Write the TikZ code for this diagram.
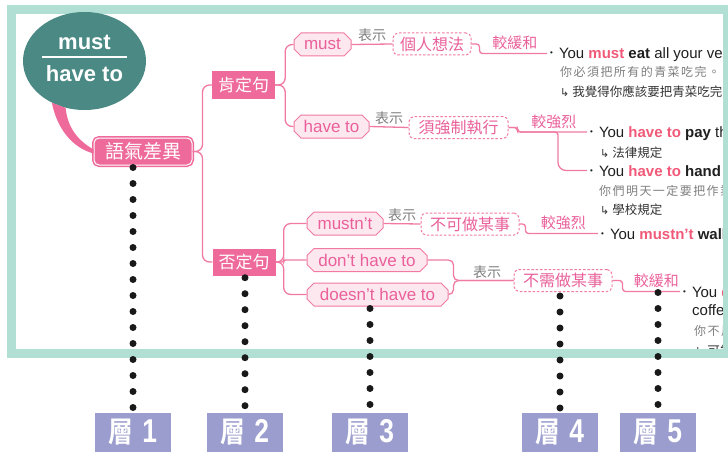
\documentclass[tikz,border=0pt]{standalone}
\usepackage{fontspec}
\setmainfont{Liberation Sans}
\newfontfamily\cjk{Noto Sans CJK TC}
\newfontfamily\cjkbold{Noto Sans CJK TC Bold}
\newfontfamily\arrowfont{DejaVu Sans}
\usetikzlibrary{shapes.misc,shapes.geometric,calc}
\definecolor{framegreen}{HTML}{B2DFD4}
\definecolor{topicteal}{HTML}{4B8A84}
\definecolor{pinkfill}{HTML}{EE6A9B}
\definecolor{pinkline}{HTML}{F07AA1}
\definecolor{pinktext}{HTML}{E9609A}
\definecolor{pinkpale}{HTML}{FDE8EF}
\definecolor{hlred}{HTML}{F05A78}
\definecolor{greytxt}{HTML}{7E7E7E}
\definecolor{layerblue}{HTML}{9A9DCD}
\newcommand{\dotmark}{\raisebox{3pt}{\fontsize{8}{8}\selectfont\textbullet}\hspace{6pt}}
\newcommand{\retarrow}{{\arrowfont\fontsize{11}{11}\selectfont ↳}\hspace{3pt}}
\newcommand{\layertext}[1]{\scalebox{0.85}[1]{\cjkbold\fontsize{29}{29}\selectfont 層}\hspace{9pt}\scalebox{0.8}[1]{\fontsize{33}{33}\selectfont\bfseries #1}}

\begin{document}
\begin{tikzpicture}[x=1pt,y=-1pt,
  every node/.style={inner sep=0pt},
  topic/.style={ellipse,fill=topicteal,minimum width=123pt,minimum height=98pt},
  topictext/.style={text=white,font=\bfseries\fontsize{22}{22}\selectfont},
  rootbox/.style={rounded corners=5pt,fill=pinkfill,draw=white,line width=1pt,
    preaction={draw=pinkfill,line width=4pt},text=white,
    font=\cjk\fontsize{19}{19}\selectfont,minimum width=98pt,minimum height=27pt},
  headbox/.style={fill=pinkfill,text=white,font=\cjk\fontsize{17}{17}\selectfont,
    minimum width=63pt,minimum height=27pt},
  wordbox/.style={chamfered rectangle,chamfered rectangle xsep=3.5pt,chamfered rectangle ysep=3.5pt,
    draw=pinkline,line width=1pt,fill=pinkpale,text=pinktext,
    font=\fontsize{17}{17}\selectfont,minimum height=23pt},
  meanbox/.style={rounded corners=5pt,draw=pinkline,line width=1pt,dash pattern=on 2.5pt off 1.8pt,
    fill=white,text=pinktext,font=\cjk\fontsize{16}{16}\selectfont,minimum height=22pt},
  branch/.style={draw=pinkline,line width=1.3pt,rounded corners=7pt},
  stepline/.style={draw=pinkline,line width=1.3pt,rounded corners=3pt},
  biaoshi/.style={text=greytxt,font=\cjk\fontsize{14}{14}\selectfont,above=1.5pt},
  tone/.style={text=pinktext,font=\cjk\fontsize{15}{15}\selectfont,above=3pt},
  sent/.style={anchor=west,text=black!88,font=\fontsize{15}{15}\selectfont,text height=11pt,text depth=0pt},
  cnline/.style={anchor=west,text=greytxt,font=\cjk\fontsize{12}{12}\selectfont\addfontfeature{LetterSpace=12}},
  noteline/.style={anchor=west,text=black!80,font=\cjk\fontsize{12.5}{12.5}\selectfont},
  layer/.style={fill=layerblue,text=white,minimum width=76pt,minimum height=39pt},
  dotcol/.style={draw=black!90,line width=7pt,line cap=round,dash pattern=on 0pt off 16pt}]
\useasboundingbox (0,0) rectangle (728,452);
\clip (0,0) rectangle (728,452);

% example sentences (the frame covers their right ends)
\node[sent] (s1) at (550,53.5) {\dotmark You \textcolor{hlred}{\textbf{must}} \textbf{eat} all your vegetables.};
\node[cnline] (s1cn) at (560,72) {你必須把所有的青菜吃完。};
\node[noteline] (s1note) at (560,92) {\retarrow 我覺得你應該要把青菜吃完};
\node[sent] (s2) at (590,132) {\dotmark You \textcolor{hlred}{\textbf{have to}} \textbf{pay} the};
\node[noteline] (s2note) at (600,152.5) {\retarrow 法律規定};
\node[sent] (s3) at (590,170.5) {\dotmark You \textcolor{hlred}{\textbf{have to}} \textbf{hand}};
\node[cnline] (s3cn) at (599,190.5) {你們明天一定要把作業};
\node[noteline] (s3note) at (600,209.5) {\retarrow 學校規定};
\node[sent] (s4) at (601,233.5) {\dotmark You \textcolor{hlred}{\textbf{mustn’t}} \textbf{wall}};
\node[sent] (s5) at (683,291.5) {\dotmark You \textcolor{hlred}{\textbf{don’t}}};
\node[sent,anchor=base west] (s5b) at (692,315) {coffee};
\node[cnline] (s5cn) at (694,330.5) {你不用};
\node[noteline] (s5note) at (695,351) {\retarrow 可能};

% frame
\draw[framegreen,line width=9pt] (11.5,9.5) rectangle (727.5,353.5);

% topic
\node[topic] (topic) at (84.5,61) {};
\node[topictext] (topicup) at (84.5,42) {must};
\node[topictext] (topicdown) at (84.5,74) {have to};
\draw[white,line width=2.5pt] ([xshift=-42.5pt,yshift=4pt]topic.center) -- ([xshift=42.5pt,yshift=4pt]topic.center);

\node[rootbox] (yuqi) at (143,151.5) {語氣差異};
\fill[pinkfill] (topic.232) .. controls +(5,25) and +(-22,-6) .. ([yshift=-2pt]yuqi.west)
  -- ([yshift=2pt]yuqi.west) .. controls +(-17,-10) and +(2,19) .. (topic.248) -- cycle;

\node[headbox] (ken) at (243.5,85) {肯定句};
\node[headbox] (fou) at (244,262) {否定句};

\node[wordbox,minimum width=57pt] (must) at (322.5,44.5) {must};
\node[wordbox,minimum width=75pt] (haveto) at (331.5,126.5) {have to};
\node[wordbox,minimum width=76pt] (mustnt) at (345,223.5) {mustn’t};
\node[wordbox,minimum width=120pt] (donthave) at (367,260) {don’t have to};
\node[wordbox,minimum width=141pt] (doesnthave) at (377.5,294.5) {doesn’t have to};

\node[meanbox,minimum width=78pt] (xiangfa) at (432,44) {個人想法};
\node[meanbox,minimum width=99pt] (zhixing) at (458.5,127.5) {須強制執行};
\node[meanbox,minimum width=98pt] (bukezuo) at (470,224) {不可做某事};
\node[meanbox,minimum width=98pt] (buxuzuo) at (563,280.5) {不需做某事};

% branches
\draw[branch] (yuqi.east) -- ++(10,0) |- (ken.west);
\draw[branch] (yuqi.east) -- ++(10,0) |- (fou.west);
\draw[branch] (ken.east) -- ++(10,0) |- (must.west);
\draw[branch] (ken.east) -- ++(10,0) |- (haveto.west);
\draw[branch] (fou.east) -- ++(8,0) |- (mustnt.west);
\draw[branch,rounded corners=2pt] (fou.east) -- ++(8,0) |- (donthave.west);
\draw[branch] (fou.east) -- ++(8,0) |- (doesnthave.west);

\draw[branch] (must.east) -- node[biaoshi] {表示} (xiangfa.west);
\draw[branch] (haveto.east) -- node[biaoshi] {表示} (zhixing.west);
\draw[branch] (mustnt.east) -- node[biaoshi] {表示} (bukezuo.west);
\draw[branch,rounded corners=5pt] (donthave.east) -- ++(26,0) |- (buxuzuo.west);
\draw[branch,rounded corners=5pt] (doesnthave.east) -- ++(5,0) |- node[pos=0.78,biaoshi] {表示} (buxuzuo.west);

\coordinate (fork) at ($(s2.west)+(-32,0)$);
\draw[stepline,shorten >=3pt] (xiangfa.east) -- ++(8,0) |- node[pos=0.75,tone] {較緩和} (s1.west);
\draw[stepline,shorten >=3pt] (zhixing.east) -- ++(9,0) |- node[pos=0.75,tone] {較強烈} (s2.west);
\draw[stepline,shorten >=3pt] (zhixing.east) -- ++(9,0) |- (fork) [rounded corners=8pt] |- (s3.west);
\draw[stepline,shorten >=3pt] (bukezuo.east) -- ++(6,0) |- node[pos=0.75,tone] {較強烈} (s4.west);
\draw[stepline,shorten >=3pt] (buxuzuo.east) -- ++(10,0) |- node[pos=0.78,tone] {較緩和} (s5.west);

% layers
\node[layer] (L1) at (133,432.5) {\layertext{1}};
\node[layer] (L2) at (245,432.5) {\layertext{2}};
\node[layer] (L3) at (370,432.5) {\layertext{3}};
\node[layer] (L4) at (560,432.5) {\layertext{4}};
\node[layer] (L5) at (658,432.5) {\layertext{5}};

\draw[dotcol] ($(L1.north |- yuqi.south)+(0,2)$) -- (L1.north);
\draw[dotcol] ($(L2.north |- fou.south)+(0,2)$) -- (L2.north);
\draw[dotcol] ($(L3.north |- doesnthave.south)+(0,2)$) -- (L3.north);
\draw[dotcol] ($(L4.north |- buxuzuo.south)+(0,4)$) -- (L4.north);
\draw[dotcol] ($(L5.north |- s5.west)+(0,1)$) -- (L5.north);
\end{tikzpicture}
\end{document}
